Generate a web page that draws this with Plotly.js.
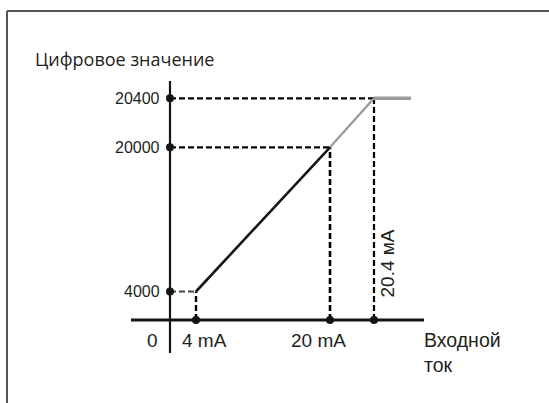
<!DOCTYPE html>
<html>
<head>
<meta charset="utf-8">
<script src="https://cdn.plot.ly/plotly-3.0.1.min.js"></script>
<style>html,body{margin:0;padding:0;background:#fff;}#chart{width:549px;height:403px;}</style>
</head>
<body>
<div id="chart"></div>
<script>
// Schematic chart: axis positions are schematic (not to scale), as in the reference.
const yAxisTitle = 'Цифровое значение';
const xAxisTitle = 'Входной<br>ток';
const currentLabels = ['0', '4 mA', '20 mA', '20.4 мA'];
const currentPos = [0, 26, 160, 204];          // schematic x of 0, 4, 20, 20.4 mA
const valueLabels = ['4000', '20000', '20400'];
const valuePos = [28.5, 172.7, 221.7];         // schematic y of 4000, 20000, 20400
const saturationEnd = 241;                     // flat output above 20.4 mA

const X4 = currentPos[1], X20 = currentPos[2], X204 = currentPos[3];
const Y4k = valuePos[0], Y20k = valuePos[1], Y204k = valuePos[2];

const dashStyle = '6px,3px';
const traces = [];
function seg(xs, ys, color, width, dash) {
  traces.push({x: xs, y: ys, mode: 'lines', hoverinfo: 'skip', showlegend: false,
    line: {color: color, width: width, dash: dash || 'solid'}});
}
// dashed guides
seg([0, X204], [Y204k, Y204k], '#000', 2.2, dashStyle);
seg([0, X20], [Y20k, Y20k], '#000', 2.2, dashStyle);
seg([0, X4], [Y4k, Y4k], '#444', 2.2, dashStyle);
seg([X4, X4], [0, Y4k], '#000', 2.4, dashStyle);
seg([X20, X20], [0, Y20k], '#000', 2.6, dashStyle);
seg([X204, X204], [0, Y204k], '#000', 2.2, dashStyle);
// characteristic
seg([X20, X204], [Y20k, Y204k], '#9a9a9a', 2.3);
seg([X204, saturationEnd], [Y204k, Y204k], '#9a9a9a', 3.5);
seg([X4, X20], [Y4k, Y20k], '#151515', 2.6);
// axes
seg([-39, 254], [0, 0], '#151515', 3);
seg([0, 0], [-33, 239], '#151515', 2.2);
// dots
traces.push({x: [0, 0, 0, X4, X20, X204], y: [Y204k, Y20k, Y4k, 0, 0, 0],
  mode: 'markers', hoverinfo: 'skip', showlegend: false,
  marker: {color: '#151515', size: 8}});

const labelFont = {family: 'Liberation Sans, Arial, sans-serif', size: 19, color: '#231f20'};
const tickFont = {family: 'Liberation Sans, Arial, sans-serif', size: 16, color: '#231f20'};
const ann = [];
ann.push({x: -137, y: 261, text: yAxisTitle, xanchor: 'left', yanchor: 'middle', showarrow: false,
  font: {family: 'Open Sans, sans-serif', size: 18, color: '#231f20'}});
valuePos.forEach((v, i) => ann.push({x: -8, y: v, text: valueLabels[i], xanchor: 'right', yanchor: 'middle',
  showarrow: false, font: tickFont}));
ann.push({x: -17.5, y: -20, text: currentLabels[0], xanchor: 'center', yanchor: 'middle', showarrow: false, font: labelFont});
ann.push({x: 34.5, y: -20, text: currentLabels[1], xanchor: 'center', yanchor: 'middle', showarrow: false, font: labelFont});
ann.push({x: 148, y: -20, text: currentLabels[2], xanchor: 'center', yanchor: 'middle', showarrow: false, font: labelFont});
ann.push({x: 217, y: 56.5, text: currentLabels[3], textangle: -90, xanchor: 'center', yanchor: 'middle', showarrow: false, font: labelFont});
ann.push({x: 252, y: -7, text: xAxisTitle, xanchor: 'left', yanchor: 'top', align: 'left', showarrow: false,
  font: {family: 'Liberation Sans, Arial, sans-serif', size: 19.5, color: '#231f20'}});

const layout = {
  width: 549, height: 403,
  margin: {l: 0, r: 0, t: 0, b: 0, pad: 0},
  paper_bgcolor: '#fff', plot_bgcolor: '#fff',
  xaxis: {range: [-170, 379], visible: false, fixedrange: true},
  yaxis: {range: [-83, 320], visible: false, fixedrange: true},
  annotations: ann,
  shapes: [
    {type: 'line', xref: 'paper', yref: 'paper', x0: 7/549, x1: 1.01, y0: 1 - 11/403, y1: 1 - 11/403, line: {color: '#555', width: 2}},
    {type: 'line', xref: 'paper', yref: 'paper', x0: 7/549, x1: 7/549, y0: 1 - 11/403, y1: -0.01, line: {color: '#555', width: 2}}
  ],
  showlegend: false
};
Plotly.newPlot('chart', traces, layout, {staticPlot: true, displayModeBar: false});
</script>
</body>
</html>
